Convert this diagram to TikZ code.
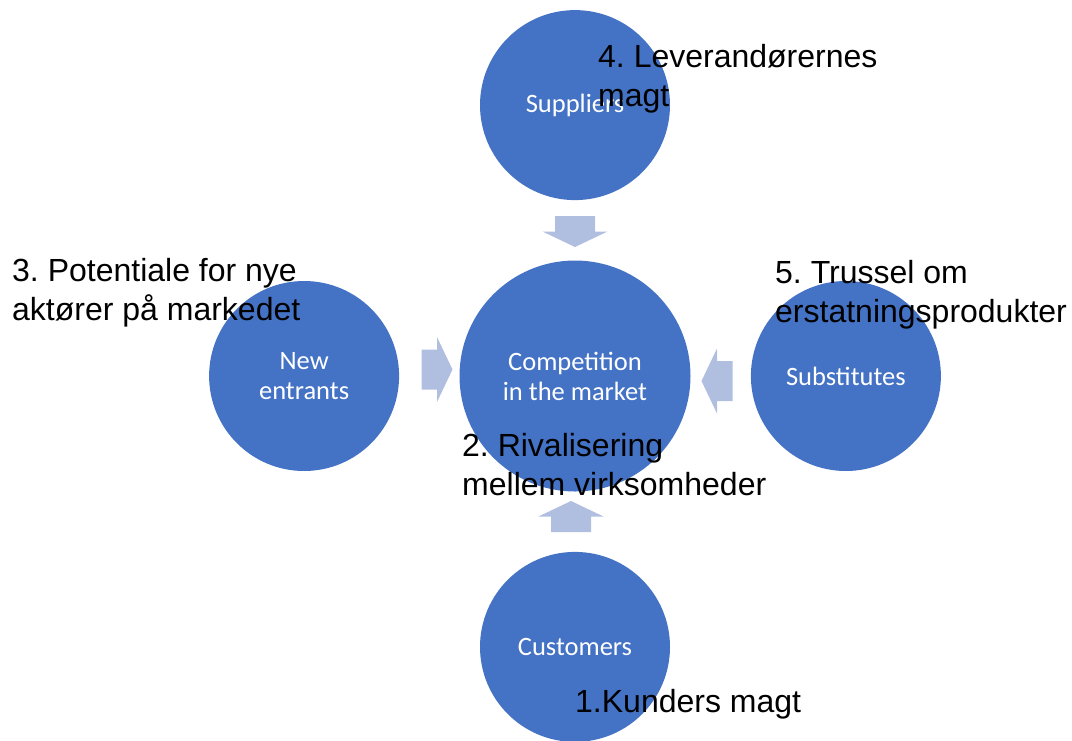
\documentclass[tikz,border=0pt]{standalone}
\usepackage{fontspec}
\setmainfont{Liberation Sans}
\newfontfamily\calibri{Carlito}
\usetikzlibrary{positioning}
\frenchspacing

\definecolor{forceblue}{HTML}{4472C4}
\definecolor{arrowblue}{HTML}{B0BEE0}

\tikzset{
  force/.style={circle, fill=forceblue, draw=none, minimum size=190pt,
    inner sep=0pt, align=center, text=white,
    font=\calibri\fontsize{26.5}{30}\selectfont},
  market/.style={force, minimum size=231pt},
  forcelabel/.style={anchor=base west, align=left, inner sep=0pt,
    font=\fontsize{32}{38.5}\selectfont},
  pics/blockarrow/.style={code={
    \fill[arrowblue] (-15.5,-20) -- (0,-20) -- (0,-32.5) -- (15.5,0)
      -- (0,32.5) -- (0,20) -- (-15.5,20) -- cycle;}}
}

\begin{document}
\begin{tikzpicture}[x=1pt, y=1pt, node distance=60pt]

    \useasboundingbox (0,0) rectangle (1072,-740);

    % Define nodes

    \node[market] at (575,-376)          (market){Competition\\in the market}; %
    \node[force, above=of market]        (suppliers){Suppliers}; %
    \node[force, left=of market]         (entrants){New\\entrants}; %
    \node[force, right=of market]        (substitutes){Substitutes}; %
    \node[force, below=of market]        (customers){Customers}; %

    % Block arrows

    \pic[rotate=-90] at (575,-231.5) {blockarrow}; %
    \pic             at (437,-369.5) {blockarrow}; %
    \pic[rotate=180] at (717,-381)   {blockarrow}; %
    \pic[rotate=90]  at (571,-516.5) {blockarrow}; %

    % Labels (base = last line)

    \node[forcelabel] (lbl_suppliers)   at (598,-106) {4. Leverandørernes\\magt}; %
    \node[forcelabel] (lbl_entrants)    at (12,-320)  {3. Potentiale for nye\\aktører på markedet}; %
    \node[forcelabel] (lbl_substitutes) at (775,-322) {5. Trussel om\\erstatningsprodukter}; %
    \node[forcelabel] (lbl_market)      at (462,-495) {2. Rivalisering\\mellem virksomheder}; %
    \node[forcelabel] (lbl_customers)   at (575,-712) {1.Kunders magt}; %

\end{tikzpicture}
\end{document}
